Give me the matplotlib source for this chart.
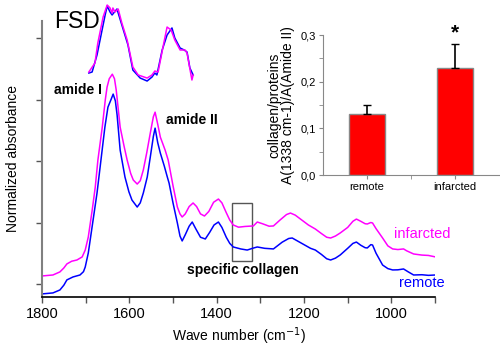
import matplotlib

matplotlib.use("Agg")
import matplotlib.pyplot as plt
from matplotlib.patches import Rectangle

plt.rcParams["font.family"] = ["Liberation Sans", "DejaVu Sans"]

# main spectra (wavenumber, normalized absorbance)
wn_inf = [1800, 1775, 1759, 1750, 1743, 1732, 1720, 1708, 1701, 1694, 1685, 1678, 1672, 1662,
          1655, 1651, 1646, 1639, 1634, 1630, 1621, 1612, 1605, 1597, 1591, 1582, 1575, 1568,
          1560, 1552, 1545, 1541, 1535, 1529, 1518, 1511, 1500, 1490, 1484, 1479, 1472, 1463,
          1454, 1446, 1437, 1428, 1418, 1407, 1396, 1388, 1378, 1370, 1362, 1350, 1335, 1316,
          1307, 1295, 1280, 1270, 1255, 1240, 1231, 1220, 1205, 1190, 1174, 1160, 1148, 1139,
          1128, 1117, 1100, 1088, 1080, 1070, 1060, 1055, 1047, 1043, 1035, 1020, 1008, 997,
          985, 972, 965, 949, 930, 915, 899]
ab_inf = [0.065, 0.073, 0.098, 0.13, 0.163, 0.185, 0.195, 0.220, 0.276, 0.382, 0.602, 0.789,
          1.008, 1.276, 1.50, 1.602, 1.67, 1.707, 1.67, 1.577, 1.276, 1.12, 1.008, 0.90, 0.846,
          0.813, 0.84, 0.927, 1.07, 1.228, 1.36, 1.398, 1.30, 1.195, 1.089, 1.008, 0.80, 0.626,
          0.57, 0.545, 0.57, 0.63, 0.659, 0.63, 0.57, 0.553, 0.59, 0.665, 0.691, 0.66, 0.58,
          0.52, 0.480, 0.462, 0.468, 0.472, 0.504, 0.49, 0.47, 0.472, 0.52, 0.565, 0.577, 0.56,
          0.52, 0.48, 0.447, 0.41, 0.38, 0.374, 0.39, 0.415, 0.46, 0.51, 0.528, 0.51, 0.49,
          0.488, 0.50, 0.496, 0.45, 0.374, 0.31, 0.285, 0.28, 0.285, 0.27, 0.244, 0.235, 0.232,
          0.220]

wn_rem = [1800, 1775, 1759, 1750, 1743, 1729, 1713, 1705, 1701, 1694, 1683, 1674, 1665, 1656,
          1649, 1642, 1637, 1632, 1628, 1621, 1610, 1601, 1594, 1582, 1575, 1568, 1559, 1552,
          1545, 1541, 1535, 1529, 1520, 1513, 1509, 1500, 1490, 1484, 1479, 1472, 1463, 1456,
          1448, 1437, 1426, 1416, 1406, 1396, 1388, 1378, 1370, 1362, 1345, 1330, 1318, 1307,
          1290, 1270, 1250, 1235, 1227, 1215, 1200, 1185, 1174, 1160, 1148, 1139, 1128, 1117,
          1100, 1088, 1080, 1070, 1060, 1055, 1047, 1043, 1035, 1020, 1008, 997, 985, 972, 962,
          949, 930, 915, 899]
ab_rem = [-0.081, -0.073, -0.049, -0.01, 0.033, 0.057, 0.073, 0.10, 0.138, 0.252, 0.520,
          0.740, 1.008, 1.276, 1.439, 1.50, 1.545, 1.49, 1.374, 1.089, 0.870, 0.75, 0.683, 0.626,
          0.66, 0.740, 0.870, 1.033, 1.20, 1.268, 1.15, 1.065, 0.96, 0.870, 0.821, 0.66, 0.496,
          0.39, 0.350, 0.40, 0.47, 0.504, 0.45, 0.38, 0.366, 0.42, 0.48, 0.504, 0.46, 0.38,
          0.33, 0.301, 0.285, 0.276, 0.29, 0.301, 0.29, 0.285, 0.34, 0.37, 0.374, 0.35, 0.32,
          0.29, 0.276, 0.24, 0.205, 0.195, 0.21, 0.236, 0.29, 0.33, 0.341, 0.315, 0.295, 0.293,
          0.32, 0.317, 0.25, 0.154, 0.125, 0.114, 0.115, 0.122, 0.10, 0.073, 0.075, 0.07, 0.073]

# FSD inset spectra
fsd_wn_inf = [1713, 1698, 1691, 1678, 1668, 1661, 1656, 1654, 1649, 1641, 1632, 1619, 1605,
              1592, 1570, 1558, 1551, 1543, 1531, 1521, 1511, 1502, 1489, 1477, 1472, 1460, 1457]
fsd_inf = [0.153, 0.259, 0.494, 0.80, 0.941, 0.906, 0.847, 0.906, 0.859, 0.894, 0.729, 0.529,
           0.212, 0.118, 0.082, 0.118, 0.165, 0.153, 0.447, 0.682, 0.647, 0.529, 0.412, 0.412,
           0.376, 0.059, 0.118]
fsd_wn_rem = [1713, 1705, 1693, 1673, 1668, 1661, 1656, 1644, 1632, 1617, 1605, 1587, 1570,
              1558, 1551, 1546, 1533, 1521, 1509, 1502, 1489, 1479, 1472, 1465, 1457]
fsd_rem = [0.141, 0.153, 0.353, 0.824, 0.929, 0.859, 0.824, 0.894, 0.706, 0.471, 0.176, 0.082,
           0.047, 0.094, 0.141, 0.118, 0.412, 0.588, 0.671, 0.553, 0.435, 0.412, 0.388, 0.200, 0.118]

# bar inset
groups = ["remote", "infarcted"]
ratio = [0.13, 0.23]
ratio_err = [0.02, 0.05]

MAGENTA = "#ff00ff"
BLUE = "#0000ff"

fig = plt.figure(figsize=(5.0, 3.48), dpi=100)

ax = fig.add_axes([0.084, 0.1466, 0.786, 0.7931])
ax.plot(wn_inf, ab_inf, color=MAGENTA, lw=1.1)
ax.plot(wn_rem, ab_rem, color=BLUE, lw=1.1)
ax.set_xlim(1800, 900)
ax.set_ylim(-0.106, 2.14)
ax.set_xticks([1800, 1600, 1400, 1200, 1000])
ax.set_xticks(range(1700, 899, -200), minor=True)
ax.set_yticks([0, 0.5, 1.0, 1.5, 2.0])
ax.set_yticklabels([])
ax.tick_params(axis="both", direction="out", length=4, width=1, labelsize=10.5, colors="#555555",
               labelcolor="black")
ax.tick_params(axis="x", which="minor", direction="out", length=4, width=1, colors="#555555")
for s in ["top", "right"]:
    ax.spines[s].set_visible(False)
ax.spines["left"].set_color("#808080")
ax.spines["left"].set_linewidth(1.5)
ax.spines["bottom"].set_linewidth(1.2)
ax.set_xlabel("Wave number (cm$^{-1}$)", fontsize=10, labelpad=3)
ax.set_ylabel("Normalized absorbance", fontsize=10, labelpad=8)

ax.add_patch(Rectangle((1366, 0.187), -48, 0.472, fill=False, ec="#555555", lw=1))
ax.text(1662, 1.577, "amide I", fontsize=10, fontweight="bold", ha="right", va="center")
ax.text(1516, 1.333, "amide II", fontsize=10, fontweight="bold", ha="left", va="center")
ax.text(1341, 0.114, "specific collagen", fontsize=10, fontweight="bold", ha="center", va="center")
ax.text(995, 0.407, "infarcted", fontsize=10.5, color=MAGENTA, ha="left", va="center")
ax.text(983, 0.008, "remote", fontsize=10.5, color=BLUE, ha="left", va="center")

# FSD inset
ins = fig.add_axes([0.172, 0.7557, 0.22, 0.2443])
ins.plot(fsd_wn_inf, fsd_inf, color=MAGENTA, lw=1.1, zorder=3)
ins.plot(fsd_wn_rem, fsd_rem, color=BLUE, lw=1.1, zorder=2)
ins.set_xlim(1720, 1450)
ins.set_ylim(0, 1.0)
ins.axis("off")
fig.text(0.108, 0.937, "FSD", fontsize=16.5, ha="left", va="center")

# bar inset
bx = fig.add_axes([0.646, 0.497, 0.352, 0.402])
x = range(len(groups))
bx.bar(x, ratio, width=0.4, color="#ff0000", edgecolor="#888888", lw=1,
       yerr=[[0, 0], ratio_err], error_kw=dict(ecolor="black", elinewidth=1.2, capsize=3))
bx.set_xlim(-0.5, 1.5)
bx.set_ylim(0, 0.3)
bx.set_xticks(list(x))
bx.set_xticklabels(groups, fontsize=8)
bx.set_xticks([0.5], minor=True)
bx.set_yticks([0, 0.1, 0.2, 0.3])
bx.set_yticklabels(["0,0", "0,1", "0,2", "0,3"], fontsize=8)
bx.set_yticks([0.05, 0.15, 0.25], minor=True)
bx.tick_params(axis="both", which="both", direction="out", length=3, colors="#888888",
               labelcolor="black", pad=2)
for s in ["top", "right"]:
    bx.spines[s].set_visible(False)
bx.spines["left"].set_color("#888888")
bx.spines["bottom"].set_color("#888888")
bx.set_ylabel("collagen/proteins\nA(1338 cm-1)/A(Amide II)", fontsize=10, labelpad=4,
              linespacing=1.0)
bx.text(1, 0.285, "*", fontsize=15, fontweight="bold", ha="center", va="bottom")

fig.savefig("out.png", dpi=100)
